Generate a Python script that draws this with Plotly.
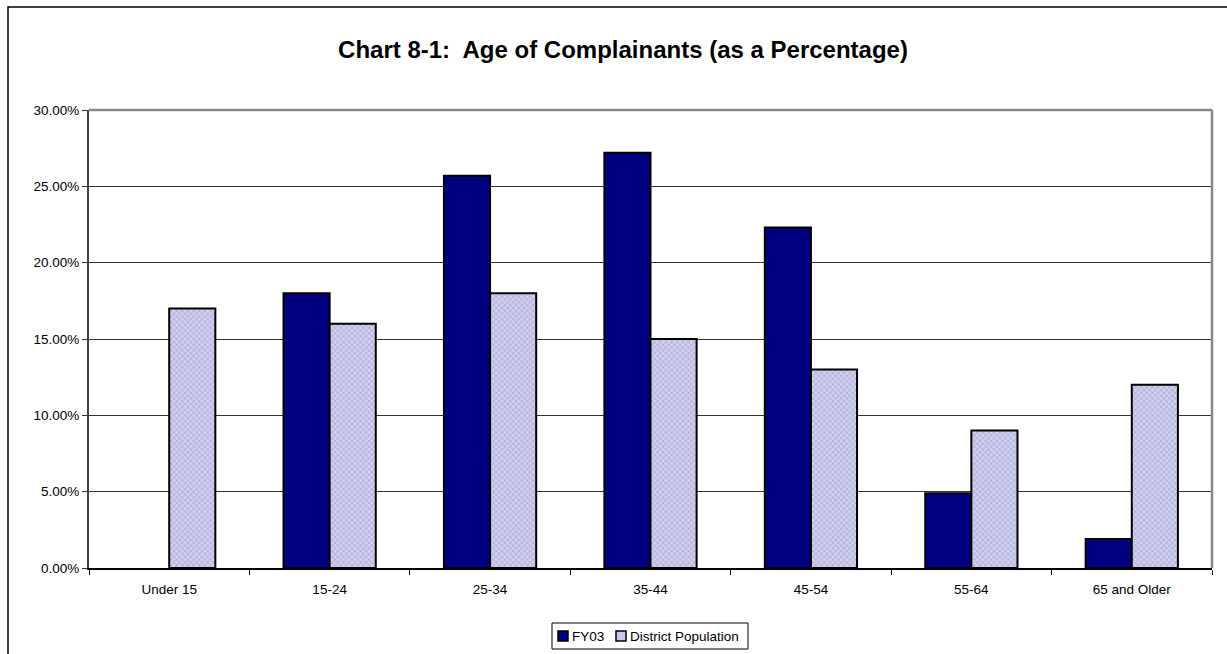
import plotly.graph_objects as go

# Age bands and shares (percent)
age_groups = ["Under 15", "15-24", "25-34", "35-44", "45-54", "55-64", "65 and Older"]
fy03 = [0.0, 18.0, 25.7, 27.2, 22.3, 4.9, 1.9]
district_population = [17.0, 16.0, 18.0, 15.0, 13.0, 9.0, 12.0]
y_ticks = [0, 5, 10, 15, 20, 25, 30]
series_names = ["FY03", "District Population"]

FONT = "Liberation Sans, Arial, sans-serif"
NAVY = "#000080"
LAVENDER = "#c8c8ea"

# Plot-area geometry in pixels (used to place the hand-drawn legend)
W, H = 1227, 654
L, R, T, B = 89, 15, 110, 86
plot_w, plot_h = W - L - R, H - T - B


def px_x(px):
    return (px - L) / plot_w


def px_y(py):
    return (H - B - py) / plot_h


fig = go.Figure()
fig.add_trace(go.Bar(
    x=age_groups, y=fy03, name=series_names[0], showlegend=False,
    marker=dict(color=NAVY,
                line=dict(color="#000000", width=[0 if v == 0 else 2 for v in fy03])),
))
fig.add_trace(go.Bar(
    x=age_groups, y=district_population, name=series_names[1], showlegend=False,
    marker=dict(
        color=LAVENDER,
        line=dict(color="#000000", width=[0 if v == 0 else 2 for v in district_population]),
        pattern=dict(shape="x", fgcolor="#8c8cc4", bgcolor="#d0d0ee", size=4, solidity=0.4),
    ),
))

fig.update_layout(
    width=W, height=H,
    margin=dict(l=L, r=R, t=T, b=B, autoexpand=False),
    paper_bgcolor="white", plot_bgcolor="white",
    font=dict(family=FONT, size=13.5, color="black"),
    title=dict(
        text="<b>Chart 8-1:  Age of Complainants (as a Percentage)</b>",
        x=623 / W, xref="container", xanchor="center",
        y=1 - 50 / H, yref="container", yanchor="middle",
        font=dict(family=FONT, size=24, color="black"),
    ),
    barmode="group", bargap=0.425, bargroupgap=0,
    showlegend=False,
    xaxis=dict(
        type="category", ticks="outside", tickson="boundaries", ticklen=5,
        tickcolor="black", showline=True, linecolor="black", linewidth=2,
        showgrid=False, tickfont=dict(size=13.5), automargin=False,
        ticklabelstandoff=8,
    ),
    yaxis=dict(
        range=[0, 30], tickvals=y_ticks,
        ticktext=[f"{v:.2f}%" for v in y_ticks],
        ticks="outside", ticklen=5, tickcolor="#333333",
        showline=True, linecolor="#444444", linewidth=2,
        showgrid=True, gridcolor="#333333", gridwidth=1,
        zeroline=False, tickfont=dict(size=13.5), automargin=False,
    ),
)

# Plot-area frame (gray top and right edges)
fig.add_shape(type="line", xref="paper", yref="paper", x0=0, x1=1, y0=1, y1=1,
              line=dict(color="#888888", width=2.5), layer="above")
fig.add_shape(type="line", xref="paper", yref="paper", x0=1, x1=1, y0=0, y1=1,
              line=dict(color="#888888", width=2.5), layer="above")

# Outer chart border
fig.add_shape(type="rect", xref="paper", yref="paper",
              x0=px_x(8), x1=px_x(1240), y0=px_y(670), y1=px_y(7),
              line=dict(color="black", width=1.5), fillcolor="rgba(0,0,0,0)", layer="below")

# Compact legend box below the axis
fig.add_shape(type="rect", xref="paper", yref="paper",
              x0=px_x(552), x1=px_x(748), y0=px_y(649), y1=px_y(623),
              line=dict(color="black", width=1), fillcolor="white")
legend_items = [
    (series_names[0], NAVY, 558),
    (series_names[1], LAVENDER, 616),
]
for name, color, sx in legend_items:
    fig.add_shape(type="rect", xref="paper", yref="paper",
                  x0=px_x(sx), x1=px_x(sx + 10), y0=px_y(641), y1=px_y(631),
                  line=dict(color="black", width=1.5), fillcolor=color)
    fig.add_annotation(xref="paper", yref="paper", x=px_x(sx + 12), y=px_y(636),
                       text=name, showarrow=False, xanchor="left", yanchor="middle",
                       font=dict(family=FONT, size=13.5, color="black"))

fig.write_html("out.html")
